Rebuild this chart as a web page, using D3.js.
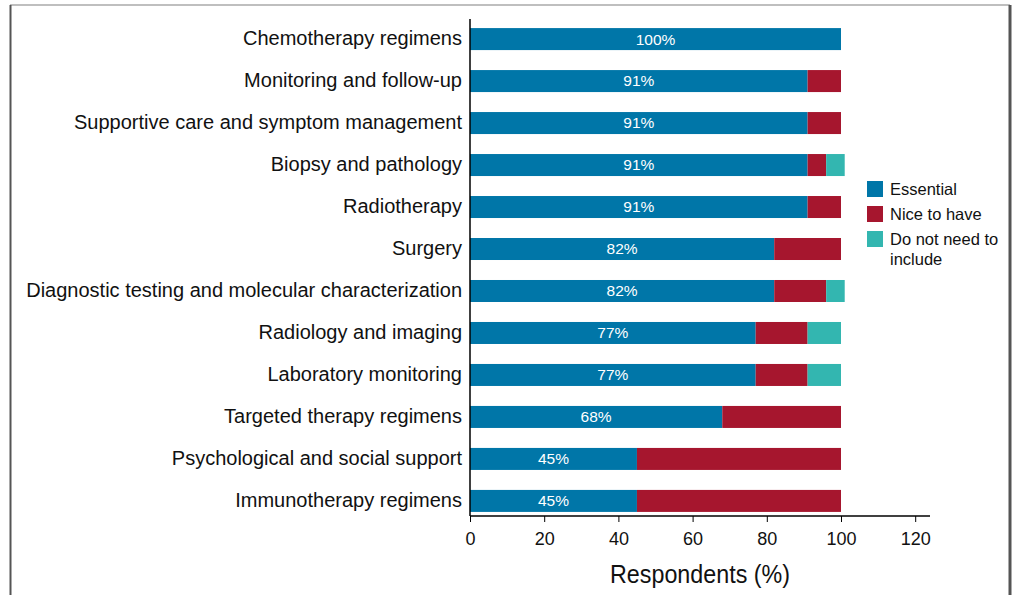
<!DOCTYPE html>
<html>
<head>
<meta charset="utf-8">
<script src="https://cdn.jsdelivr.net/npm/d3@7"></script>
<style>
  body { margin: 0; background: #fff; }
  svg text { font-family: "Liberation Sans", Arial, sans-serif; }
</style>
</head>
<body>
<div id="chart"></div>
<script>
  // categories, top to bottom
  var categories = ["Chemotherapy regimens", "Monitoring and follow-up",
    "Supportive care and symptom management", "Biopsy and pathology", "Radiotherapy",
    "Surgery", "Diagnostic testing and molecular characterization", "Radiology and imaging",
    "Laboratory monitoring", "Targeted therapy regimens", "Psychological and social support",
    "Immunotherapy regimens"];
  var essential = [100, 91, 91, 91, 91, 82, 82, 77, 77, 68, 45, 45];
  var niceToHave = [0, 9, 9, 5, 9, 18, 14, 14, 14, 32, 55, 55];
  var notNeeded = [0, 0, 0, 5, 0, 0, 5, 9, 9, 0, 0, 0];
  var seriesNames = ["Essential", "Nice to have", "Do not need to include"];
  var colors = ["#0076a8", "#a6162e", "#33b6b0"];
  var xTicks = [0, 20, 40, 60, 80, 100, 120];

  var W = 1019, H = 595;

  var svg = d3.select("#chart").append("svg")
    .attr("width", W).attr("height", H);

  // frame
  svg.append("line").attr("x1", 10).attr("x2", 1010).attr("y1", 5).attr("y2", 5)
    .style("stroke", "#aaa").style("stroke-width", 1.5);
  svg.append("line").attr("x1", 10.5).attr("x2", 10.5).attr("y1", 5).attr("y2", H)
    .style("stroke", "#555").style("stroke-width", 2);
  svg.append("line").attr("x1", 1010).attr("x2", 1010).attr("y1", 5).attr("y2", H)
    .style("stroke", "#555").style("stroke-width", 3);

  var x = d3.scaleLinear().domain([0, 100]).range([470, 841]);
  var y = d3.scaleBand().domain(categories).range([18, 522]).paddingInner(0.476).paddingOuter(0.24);

  var rows = categories.map(function(c, i) {
    return {cat: c, v: [essential[i], niceToHave[i], notNeeded[i]]};
  });

  var g = svg.append("g");
  rows.forEach(function(r) {
    var start = 0;
    r.v.forEach(function(v, k) {
      if (v > 0) {
        g.append("rect")
          .attr("x", x(start)).attr("y", y(r.cat))
          .attr("width", x(start + v) - x(start)).attr("height", y.bandwidth())
          .style("fill", colors[k]);
      }
      start += v;
    });
    g.append("text")
      .attr("x", x(r.v[0] / 2)).attr("y", y(r.cat) + y.bandwidth() / 2)
      .attr("dy", "0.35em").attr("text-anchor", "middle")
      .style("fill", "#fff").style("font-size", "15.5px")
      .text(r.v[0] + "%");
  });

  // y axis
  var yAxis = svg.append("g").attr("transform", "translate(470,0)")
    .call(d3.axisLeft(y).tickSize(0).tickPadding(8));
  yAxis.select(".domain").attr("d", "M0,19V516").style("stroke", "#000").style("stroke-width", 1.5);
  yAxis.selectAll("text").style("font-size", "20px").style("fill", "#111")
    .style("font-family", "'Liberation Sans', Arial, sans-serif");

  // x axis
  var xAxis = svg.append("g").attr("transform", "translate(0,516)")
    .call(d3.axisBottom(x).tickValues(xTicks).tickSize(6).tickSizeOuter(0).tickPadding(10));
  xAxis.select(".domain").attr("d", "M470,0H930").style("stroke", "#000").style("stroke-width", 1.5);
  xAxis.selectAll(".tick line").style("stroke", "#000");
  xAxis.selectAll("text").style("font-size", "18px").style("fill", "#111")
    .style("font-family", "'Liberation Sans', Arial, sans-serif");

  svg.append("text").attr("x", 700).attr("y", 583).attr("text-anchor", "middle")
    .attr("textLength", 180).attr("lengthAdjust", "spacingAndGlyphs")
    .style("font-size", "25px").style("fill", "#111")
    .text("Respondents (%)");

  // legend
  var leg = svg.append("g").attr("transform", "translate(867,181)");
  seriesNames.forEach(function(n, i) {
    var row = leg.append("g").attr("transform", "translate(0," + (i * 25) + ")");
    row.append("rect").attr("width", 16).attr("height", 16).style("fill", colors[i]);
    var t = row.append("text").attr("x", 23).attr("y", 8).attr("dy", "0.35em")
      .style("font-size", "16.5px").style("fill", "#111");
    if (i == 2) {
      t.append("tspan").attr("x", 23).text("Do not need to");
      t.append("tspan").attr("x", 23).attr("dy", "1.25em").text("include");
    } else {
      t.text(n);
    }
  });
</script>
</body>
</html>
